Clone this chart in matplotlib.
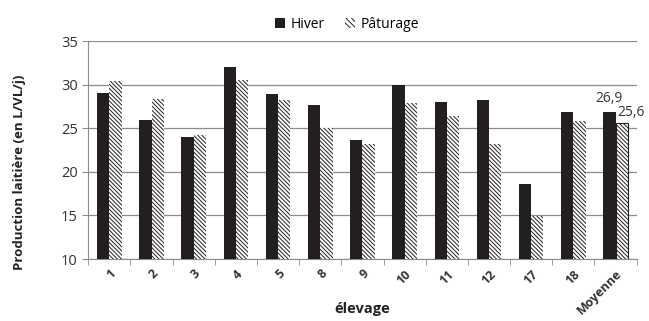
import matplotlib.pyplot as plt
import numpy as np
from matplotlib.patches import Patch
from matplotlib.transforms import offset_copy

plt.rcParams['font.family'] = ['Open Sans', 'DejaVu Sans']
plt.rcParams['hatch.linewidth'] = 0.7

elevages = ["1", "2", "3", "4", "5", "8", "9", "10", "11", "12", "17", "18", "Moyenne"]
hiver = [29.1, 25.9, 24.0, 32.0, 28.9, 27.7, 23.7, 30.0, 28.0, 28.3, 18.6, 26.9, 26.9]
paturage = [30.4, 28.4, 24.2, 30.5, 28.2, 25.0, 23.2, 27.9, 26.4, 23.2, 14.9, 25.8, 25.6]

fig = plt.figure(figsize=(6.49, 3.21), dpi=100)
ax = fig.add_axes([0.136, 0.193, 0.845, 0.679])

x = np.arange(len(elevages))
w = 0.29
ax.bar(x - w / 2, np.array(hiver) - 10, w, bottom=10, color='#231f20', zorder=3)
bars_p = ax.bar(x + w / 2, np.array(paturage) - 10, w, bottom=10, color='white',
                edgecolor='#231f20', hatch='\\' * 8, linewidth=0, zorder=3)
bars_p[-1].set_linewidth(0.8)

ax.text(x[-1] - w / 2, hiver[-1] + 0.6, "26,9", ha='center', va='bottom', fontsize=10, color='#333333')
ax.text(x[-1] + w * 1.3, paturage[-1] + 0.3, "25,6", ha='center', va='bottom', fontsize=10, color='#333333')

ax.set_xlim(-0.5, len(elevages) - 0.5)
ax.set_ylim(10, 35)
ax.set_yticks([10, 15, 20, 25, 30, 35])
ax.yaxis.grid(True, color='#8c8c8c', linewidth=0.9, zorder=0)
ax.set_axisbelow(True)

ax.set_xticks(x)
ax.set_xticklabels(elevages, rotation=45, ha='right', rotation_mode='anchor',
                   fontsize=9, fontweight='bold', color='#333333')
for lab in ax.get_xticklabels():
    lab.set_transform(offset_copy(lab.get_transform(), fig=fig, x=4, y=0, units='dots'))
ax.tick_params(axis='x', length=0, pad=6)
ax.set_xticks(np.arange(len(elevages) + 1) - 0.5, minor=True)
ax.tick_params(axis='x', which='minor', length=4, color='#8c8c8c', direction='out')
ax.tick_params(axis='y', length=4, color='#8c8c8c', labelsize=10.5, labelcolor='#333333')

for s in ['top', 'right']:
    ax.spines[s].set_visible(False)
for s in ['left', 'bottom']:
    ax.spines[s].set_color('#8c8c8c')

ax.set_ylabel("Production laitière (en L/VL/j)", fontsize=9.5, fontweight='bold', color='#222222')
ax.yaxis.set_label_coords(-0.114, 0.40)
ax.set_xlabel("élevage", fontsize=10.5, fontweight='bold', color='#222222')
ax.xaxis.set_label_coords(0.5, -0.23)
ax.xaxis.label.set_va('center')

handles = [Patch(facecolor='#231f20', label='Hiver'),
           Patch(facecolor='white', edgecolor='#231f20', hatch='\\' * 6, linewidth=0, label='Pâturage')]
fig.legend(handles=handles, loc='center', bbox_to_anchor=(0.535, 0.925), ncol=2, frameon=False,
           fontsize=10, handlelength=0.7, handleheight=0.7, handletextpad=0.4, columnspacing=1.5)

fig.savefig("out.png", dpi=100)
